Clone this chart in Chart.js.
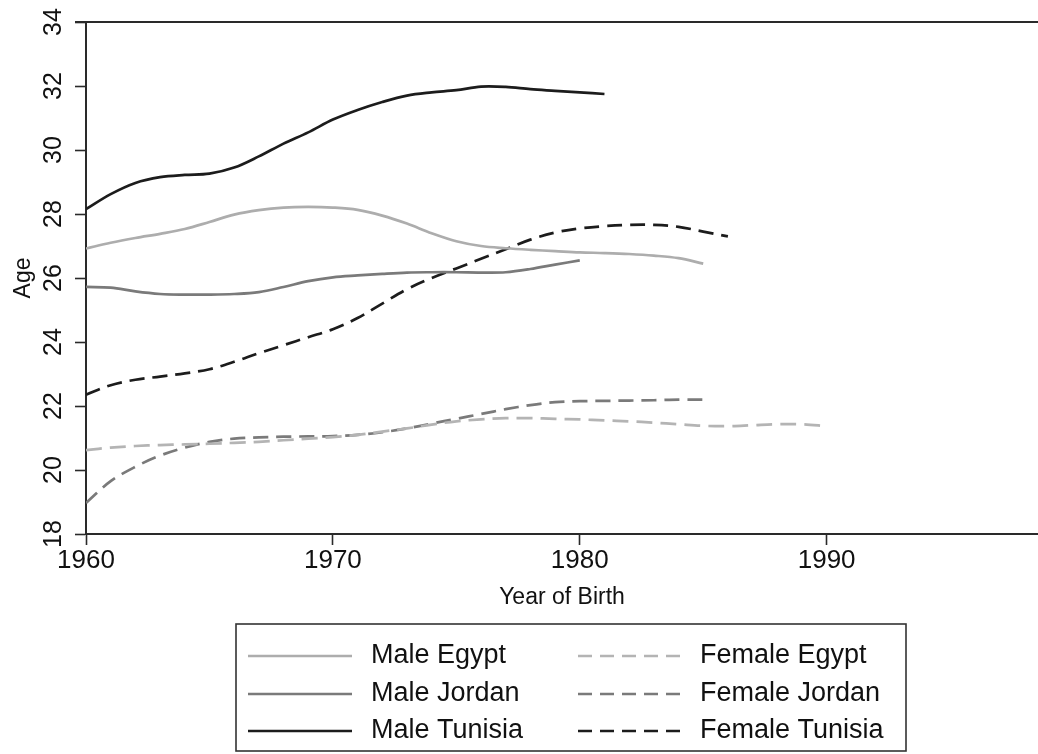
<!DOCTYPE html>
<html>
<head>
<meta charset="utf-8">
<script src="https://cdn.jsdelivr.net/npm/chart.js@4.4.1/dist/chart.umd.min.js"></script>
<style>
  html, body { margin: 0; padding: 0; background: #ffffff; overflow: hidden; }
  #wrap { width: 1038px; height: 754px; position: relative; overflow: hidden; }
  #chart { display: block; }
</style>
</head>
<body>
<div id="wrap"><canvas id="chart" width="1038" height="754"></canvas></div>
<script>
// Year of birth for each observation (series may stop earlier)
const years = [1960, 1961, 1962, 1963, 1964, 1965, 1966, 1967, 1968, 1969,
               1970, 1971, 1972, 1973, 1974, 1975, 1976, 1977, 1978, 1979,
               1980, 1981, 1982, 1983, 1984, 1985, 1986, 1987, 1988, 1989, 1990];

// Median age at first marriage, by sex and country
const maleEgypt = [26.92, 27.10, 27.25, 27.38, 27.53, 27.75, 27.98, 28.12, 28.20, 28.22,
                   28.20, 28.13, 27.95, 27.70, 27.40, 27.15, 27.00, 26.93, 26.88, 26.84,
                   26.80, 26.78, 26.75, 26.70, 26.62, 26.45];
const maleJordan = [25.72, 25.70, 25.58, 25.50, 25.48, 25.48, 25.50, 25.56, 25.72, 25.90,
                    26.02, 26.08, 26.13, 26.17, 26.18, 26.18, 26.17, 26.18, 26.28, 26.42,
                    26.55];
const maleTunisia = [28.15, 28.62, 28.97, 29.15, 29.22, 29.26, 29.45, 29.80, 30.20, 30.55,
                     30.95, 31.25, 31.50, 31.70, 31.80, 31.87, 31.98, 31.97, 31.90, 31.85,
                     31.80, 31.75];
const femaleEgypt = [20.62, 20.70, 20.75, 20.78, 20.80, 20.82, 20.85, 20.88, 20.93, 20.98,
                     21.03, 21.10, 21.20, 21.30, 21.42, 21.52, 21.58, 21.62, 21.62, 21.60,
                     21.58, 21.55, 21.52, 21.48, 21.43, 21.38, 21.37, 21.40, 21.43, 21.43,
                     21.37];
const femaleJordan = [18.97, 19.65, 20.10, 20.45, 20.70, 20.88, 20.98, 21.02, 21.04, 21.05,
                      21.06, 21.10, 21.18, 21.30, 21.45, 21.60, 21.75, 21.90, 22.03, 22.12,
                      22.15, 22.16, 22.17, 22.18, 22.20, 22.20];
const femaleTunisia = [22.35, 22.65, 22.82, 22.92, 23.02, 23.15, 23.38, 23.65, 23.90, 24.15,
                       24.40, 24.75, 25.20, 25.65, 26.00, 26.30, 26.60, 26.90, 27.20, 27.42,
                       27.55, 27.62, 27.66, 27.66, 27.60, 27.45, 27.30];

// Axis ticks
const xTicks = [1960, 1970, 1980, 1990];
const yTicks = [18, 20, 22, 24, 26, 28, 30, 32, 34];

// Series labels in legend order (two columns: male, female)
const seriesLabels = ['Male Egypt', 'Male Jordan', 'Male Tunisia',
                      'Female Egypt', 'Female Jordan', 'Female Tunisia'];

const FONT = '"Liberation Sans", Arial, Helvetica, sans-serif';
const AXIS_COLOR = '#2a2a2a';

function toPoints(values) {
  return values.map((v, i) => ({ x: years[i], y: v }));
}

function series(label, values, color, dash) {
  return {
    label: label,
    data: toPoints(values),
    borderColor: color,
    backgroundColor: color,
    borderWidth: 2.7,
    borderDash: dash,
    borderCapStyle: 'butt',
    pointRadius: 0,
    pointHoverRadius: 0,
    tension: 0.35,
    fill: false
  };
}

const datasets = [
  series(seriesLabels[0], maleEgypt, '#adadad', []),
  series(seriesLabels[1], maleJordan, '#7a7a7a', []),
  series(seriesLabels[2], maleTunisia, '#1c1c1c', []),
  series(seriesLabels[3], femaleEgypt, '#b4b4b4', [16, 8]),
  series(seriesLabels[4], femaleJordan, '#7a7a7a', [15, 8]),
  series(seriesLabels[5], femaleTunisia, '#1c1c1c', [15, 8])
];

// Rotated y tick labels, top frame line and boxed legend
const decorations = {
  id: 'decorations',
  afterDraw(chart) {
    const ctx = chart.ctx;
    const area = chart.chartArea;
    const ys = chart.scales.y;

    ctx.save();
    // top frame line
    ctx.strokeStyle = AXIS_COLOR;
    ctx.lineWidth = 2;
    ctx.beginPath();
    ctx.moveTo(area.left - 11, area.top);
    ctx.lineTo(area.right, area.top);
    ctx.stroke();

    // vertical tick labels on the y axis
    ctx.fillStyle = '#111';
    ctx.font = '25px ' + FONT;
    ctx.textAlign = 'center';
    ctx.textBaseline = 'middle';
    yTicks.forEach(v => {
      const py = ys.getPixelForValue(v);
      ctx.save();
      ctx.translate(area.left - 32, py);
      ctx.rotate(-Math.PI / 2);
      ctx.fillText(String(v), 0, 0);
      ctx.restore();
    });

    // legend box
    const box = { left: 236, top: 624, right: 906, bottom: 751 };
    ctx.strokeStyle = '#333';
    ctx.lineWidth = 1.6;
    ctx.strokeRect(box.left, box.top, box.right - box.left, box.bottom - box.top);

    const rowY = [656, 694, 731];
    const cols = [
      { lineFrom: 248, lineTo: 352, textX: 371 },
      { lineFrom: 578, lineTo: 683, textX: 700 }
    ];
    ctx.font = '27px ' + FONT;
    ctx.textAlign = 'left';
    ctx.textBaseline = 'middle';
    chart.data.datasets.forEach((ds, i) => {
      const col = cols[Math.floor(i / 3)];
      const y = rowY[i % 3];
      ctx.strokeStyle = ds.borderColor;
      ctx.lineWidth = ds.borderWidth;
      ctx.setLineDash(ds.borderDash.length ? [14, 8] : []);
      ctx.beginPath();
      ctx.moveTo(col.lineFrom, y);
      ctx.lineTo(col.lineTo, y);
      ctx.stroke();
      ctx.setLineDash([]);
      ctx.fillStyle = '#111';
      ctx.fillText(ds.label, col.textX, y);
    });
    ctx.restore();
  }
};

new Chart(document.getElementById('chart'), {
  type: 'line',
  data: { datasets: datasets },
  plugins: [decorations],
  options: {
    responsive: false,
    animation: false,
    events: [],
    layout: { padding: { top: 22, right: 0, left: 0, bottom: 143 } },
    plugins: {
      legend: { display: false },
      tooltip: { enabled: false }
    },
    scales: {
      x: {
        type: 'linear',
        min: 1960,
        max: 1998.56,
        afterBuildTicks(scale) { scale.ticks = xTicks.map(v => ({ value: v })); },
        afterFit(scale) { scale.height = 77; },
        ticks: {
          color: '#111',
          font: { family: FONT, size: 26 },
          padding: 0,
          maxRotation: 0,
          autoSkip: false,
          callback: v => String(v)
        },
        grid: { drawOnChartArea: false, tickLength: 11, tickWidth: 1.6, tickColor: AXIS_COLOR },
        border: { display: true, color: AXIS_COLOR, width: 2 },
        title: {
          display: true,
          text: 'Year of Birth',
          color: '#111',
          font: { family: FONT, size: 23 },
          align: 'center',
          padding: { top: 0, bottom: 0 }
        }
      },
      y: {
        type: 'linear',
        min: 18,
        max: 34,
        afterBuildTicks(scale) { scale.ticks = yTicks.map(v => ({ value: v })); },
        afterFit(scale) { scale.width = 86; },
        ticks: { display: false },
        grid: { drawOnChartArea: false, tickLength: 11, tickWidth: 1.6, tickColor: AXIS_COLOR },
        border: { display: true, color: AXIS_COLOR, width: 2 },
        title: {
          display: true,
          text: 'Age',
          color: '#111',
          font: { family: FONT, size: 23 },
          padding: { top: 10, bottom: 0 }
        }
      }
    }
  }
});
</script>
</body>
</html>
